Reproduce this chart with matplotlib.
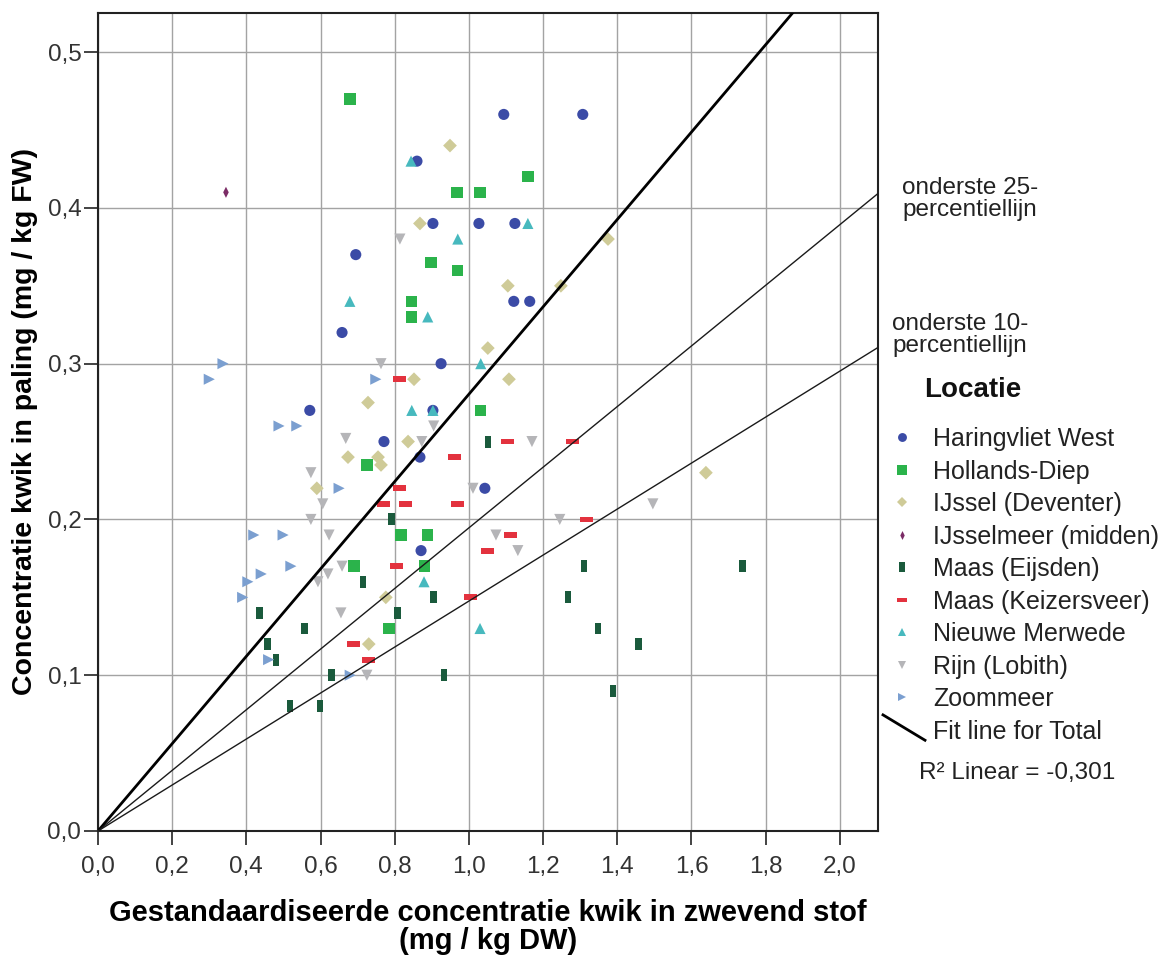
import numpy as np
import matplotlib
matplotlib.use("Agg")
import matplotlib.pyplot as plt
from matplotlib.lines import Line2D
from matplotlib.path import Path
from matplotlib.legend_handler import HandlerBase
from matplotlib.ticker import FuncFormatter, MultipleLocator

plt.rcParams["font.family"] = ["Liberation Sans", "DejaVu Sans"]

W, H = 1167, 957

# ---- data ----
haringvliet_x = [1.094, 1.307, 0.860, 0.903, 1.027, 1.124, 0.695, 1.121, 1.164, 0.658,
                 0.925, 0.571, 0.903, 0.771, 0.868, 1.043, 0.871]
haringvliet_y = [0.46, 0.46, 0.43, 0.39, 0.39, 0.39, 0.37, 0.34, 0.34, 0.32,
                 0.30, 0.27, 0.27, 0.25, 0.24, 0.22, 0.18]

hollands_x = [0.679, 0.968, 1.030, 1.159, 0.898, 0.970, 0.846, 0.846, 1.032, 0.725,
              0.817, 0.889, 0.690, 0.881, 0.785]
hollands_y = [0.47, 0.41, 0.41, 0.42, 0.365, 0.36, 0.34, 0.33, 0.27, 0.235,
              0.19, 0.19, 0.17, 0.17, 0.13]

ijssel_x = [0.949, 0.868, 1.375, 1.105, 1.248, 1.051, 0.852, 1.108, 0.728, 0.836,
            0.674, 0.755, 0.763, 0.590, 1.639, 0.776, 0.730]
ijssel_y = [0.44, 0.39, 0.38, 0.35, 0.35, 0.31, 0.29, 0.29, 0.275, 0.25,
            0.24, 0.24, 0.235, 0.22, 0.23, 0.15, 0.12]

ijsselmeer_x = [0.345]
ijsselmeer_y = [0.41]

eijsden_x = [1.051, 0.792, 0.714, 0.808, 0.905, 1.310, 1.738, 1.267, 1.348, 1.458,
             1.388, 0.435, 0.457, 0.480, 0.556, 0.630, 0.933, 0.518, 0.598]
eijsden_y = [0.25, 0.20, 0.16, 0.14, 0.15, 0.17, 0.17, 0.15, 0.13, 0.12,
             0.09, 0.14, 0.12, 0.11, 0.13, 0.10, 0.10, 0.08, 0.08]

keizersveer_x = [0.814, 1.105, 1.280, 0.960, 0.814, 0.771, 0.830, 0.970, 1.318, 1.113,
                 1.050, 0.806, 1.005, 0.690, 0.730]
keizersveer_y = [0.29, 0.25, 0.25, 0.24, 0.22, 0.21, 0.21, 0.21, 0.20, 0.19,
                 0.18, 0.17, 0.15, 0.12, 0.11]

merwede_x = [0.844, 1.159, 0.970, 0.679, 0.889, 1.032, 0.846, 0.903, 0.879, 1.030]
merwede_y = [0.43, 0.39, 0.38, 0.34, 0.33, 0.30, 0.27, 0.27, 0.16, 0.13]

rijn_x = [0.814, 0.763, 0.905, 0.668, 0.873, 1.170, 0.574, 0.606, 1.011, 0.574,
          0.623, 1.073, 1.245, 1.132, 0.658, 0.620, 1.496, 0.655, 0.725, 0.593]
rijn_y = [0.38, 0.30, 0.26, 0.252, 0.25, 0.25, 0.23, 0.21, 0.22, 0.20,
          0.19, 0.19, 0.20, 0.18, 0.17, 0.165, 0.21, 0.14, 0.10, 0.16]

zoommeer_x = [0.300, 0.337, 0.749, 0.488, 0.536, 0.650, 0.420, 0.499, 0.440, 0.520,
              0.404, 0.390, 0.460, 0.680]
zoommeer_y = [0.29, 0.30, 0.29, 0.26, 0.26, 0.22, 0.19, 0.19, 0.165, 0.17,
              0.16, 0.15, 0.11, 0.10]

FIT_SLOPE = 0.2804   # Fit line for Total (through origin)
P25_SLOPE = 0.1946   # onderste 25-percentiellijn
P10_SLOPE = 0.1476   # onderste 10-percentiellijn
R2_TEXT = "R\u00b2 Linear = -0,301"

# ---- marker shapes ----
vbar = Path([(-0.55, -1), (0.55, -1), (0.55, 1), (-0.55, 1), (-0.55, -1)],
            [Path.MOVETO, Path.LINETO, Path.LINETO, Path.LINETO, Path.CLOSEPOLY])
hbar = Path([(-1, -0.45), (1, -0.45), (1, 0.45), (-1, 0.45), (-1, -0.45)],
            [Path.MOVETO, Path.LINETO, Path.LINETO, Path.LINETO, Path.CLOSEPOLY])
thin_d = Path([(0, 1), (0.5, 0), (0, -1), (-0.5, 0), (0, 1)],
              [Path.MOVETO, Path.LINETO, Path.LINETO, Path.LINETO, Path.CLOSEPOLY])

series = [
    ("Haringvliet West", haringvliet_x, haringvliet_y, "o", "#3b4ba6", 8.0),
    ("Hollands-Diep", hollands_x, hollands_y, "s", "#2bb34b", 8.2),
    ("IJssel (Deventer)", ijssel_x, ijssel_y, "D", "#cfcb98", 7.0),
    ("IJsselmeer (midden)", ijsselmeer_x, ijsselmeer_y, thin_d, "#7b2c66", 8.0),
    ("Maas (Eijsden)", eijsden_x, eijsden_y, vbar, "#1a5a3c", 8.6),
    ("Maas (Keizersveer)", keizersveer_x, keizersveer_y, hbar, "#e3323e", 9.4),
    ("Nieuwe Merwede", merwede_x, merwede_y, "^", "#47b9be", 8.0),
    ("Rijn (Lobith)", rijn_x, rijn_y, "v", "#b5b5b8", 8.0),
    ("Zoommeer", zoommeer_x, zoommeer_y, ">", "#7b9fd0", 8.0),
]

fig = plt.figure(figsize=(W / 100, H / 100), dpi=100)
ax = fig.add_axes([98 / W, 1 - 831 / H, 780 / W, 818.3 / H])

for name, xs, ys, mk, col, ms in series:
    ax.scatter(xs, ys, marker=mk, s=ms ** 2, color=col, edgecolors="none",
               zorder=3)

# reference lines through the origin
ax.axline((0, 0), slope=FIT_SLOPE, color="black", lw=2.0, zorder=4)
ax.axline((0, 0), slope=P25_SLOPE, color="#1a1a1a", lw=1.0, zorder=4)
ax.axline((0, 0), slope=P10_SLOPE, color="#1a1a1a", lw=1.0, zorder=4)

ax.set_xlim(0, 2.103)
ax.set_ylim(0, 0.5253)
ax.xaxis.set_major_locator(MultipleLocator(0.2))
ax.yaxis.set_major_locator(MultipleLocator(0.1))
comma = FuncFormatter(lambda v, p: f"{v:.1f}".replace(".", ","))
ax.xaxis.set_major_formatter(comma)
ax.yaxis.set_major_formatter(comma)
ax.grid(True, color="#a3a3a3", lw=1.0, zorder=0)
ax.set_axisbelow(True)
ax.tick_params(direction="out", length=10, width=1.2, pad=2,
               labelsize=17.5, colors="#222222", labelcolor="#333333")
ax.tick_params(axis="x", pad=8)
for s in ax.spines.values():
    s.set_color("#222222")
    s.set_linewidth(1.5)

ax.set_xlabel("Gestandaardiseerde concentratie kwik in zwevend stof\n(mg / kg DW)",
              fontsize=21, fontweight="bold", linespacing=1.0)
ax.xaxis.set_label_coords(0.5, -0.1175)
ax.xaxis.label.set_va("center")
ax.set_ylabel("Concentratie kwik in paling (mg / kg FW)",
              fontsize=20.5, fontweight="bold")
ax.yaxis.set_label_coords(-0.094, 0.5)
ax.yaxis.label.set_va("center")


# ---- legend ----
class DiagHandler(HandlerBase):
    def create_artists(self, legend, orig_handle, xdescent, ydescent,
                       width, height, fontsize, trans):
        x0, y0 = -xdescent, -ydescent
        ln = Line2D([x0 - 0.45 * width, x0 + 1.65 * width],
                    [y0 + 1.35 * height, y0 - 0.1 * height],
                    color="black", lw=2.0, transform=trans)
        return [ln]


handles = [Line2D([], [], ls="none", marker=mk, color=col, markersize=ms * 0.8,
                  markeredgewidth=0)
           for name, xs, ys, mk, col, ms in series]
labels = [s[0] for s in series]
fit_handle = Line2D([], [], color="black")
handles.append(fit_handle)
labels.append("Fit line for Total")

leg = ax.legend(handles, labels, loc="upper left",
                bbox_to_anchor=(892 / W, 1 - 427 / H),
                bbox_transform=fig.transFigure, frameon=False,
                fontsize=18, handlelength=0.8, handletextpad=0.84,
                labelspacing=0.34, borderpad=0, borderaxespad=0,
                handler_map={fit_handle: DiagHandler()})
for t in leg.get_texts():
    t.set_color("#222222")

fig.text(973 / W, 1 - 390 / H, "Locatie", fontsize=20, fontweight="bold",
         ha="center", va="center", color="#111111")
fig.text(1017 / W, 1 - 773 / H, R2_TEXT, fontsize=17.5, ha="center",
         va="center", color="#222222")

fig.text(902 / W, 1 - 199 / H, "onderste 25-\npercentiellijn", fontsize=17.5,
         ha="left", va="center", linespacing=1.05, color="#222222")
fig.text(892 / W, 1 - 335 / H, "onderste 10-\npercentiellijn", fontsize=17.5,
         ha="left", va="center", linespacing=1.05, color="#222222")

fig.savefig("out.png", dpi=100)
